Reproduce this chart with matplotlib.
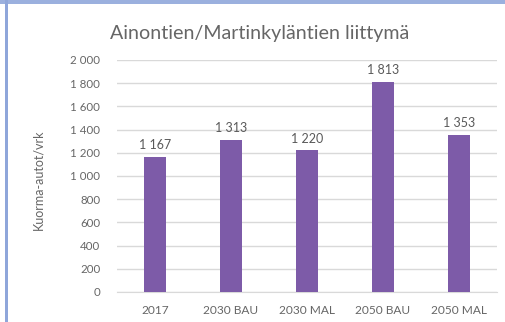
import matplotlib
matplotlib.use("Agg")
import matplotlib.pyplot as plt
from matplotlib.patches import Rectangle

categories = ["2017", "2030 BAU", "2030 MAL", "2050 BAU", "2050 MAL"]
values = [1167, 1313, 1220, 1813, 1353]
yticks = [0, 200, 400, 600, 800, 1000, 1200, 1400, 1600, 1800, 2000]
title = "Ainontien/Martinkyläntien liittymä"
ylabel = "Kuorma-autot/vrk"


def fi(n):
    return f"{n:,}".replace(",", " ")


W, H = 506, 322
fig = plt.figure(figsize=(W / 100, H / 100), dpi=100)
fig.patch.set_facecolor("white")
plt.rcParams["font.family"] = ["Lato", "DejaVu Sans"]

# frame edges (top and left)
fig.add_artist(Rectangle((0, 1 - 4 / H), 1, 4 / H, transform=fig.transFigure,
                         color="#9BB0DE", lw=0))
fig.add_artist(Rectangle((5 / W, 0), 3 / W, 1, transform=fig.transFigure,
                         color="#8FA6DA", lw=0))

ax = fig.add_axes([117 / W, 1 - 292 / H, 380 / W, 232 / H])
x = range(len(categories))
bars = ax.bar(x, values, width=0.3, color="#7D5BA8", zorder=3)
ax.set_xlim(-0.5, len(categories) - 0.5)
ax.set_ylim(0, 2000)
ax.set_yticks(yticks)
ax.set_yticklabels([fi(v) for v in yticks])
ax.set_xticks(list(x))
ax.set_xticklabels(categories)
ax.yaxis.grid(True, color="#D9D9D9", lw=1, zorder=0)
for s in ["top", "right", "left"]:
    ax.spines[s].set_visible(False)
ax.spines["bottom"].set_color("#D9D9D9")
ax.tick_params(axis="both", length=0, colors="#666666")
ax.tick_params(axis="y", pad=12, labelsize=8.3)
ax.tick_params(axis="x", pad=9, labelsize=8.6)

for b, v in zip(bars, values):
    ax.annotate(fi(v), (b.get_x() + b.get_width() / 2, v), xytext=(0, 4),
                textcoords="offset points", ha="center", va="bottom",
                fontsize=9, color="#595959")

fig.text(38 / W, 1 - 180 / H, ylabel, rotation=90, ha="center", va="center",
         fontsize=9, color="#666666")
fig.text(260 / W, 1 - 33 / H, title, ha="center", va="center",
         fontsize=14.1, color="#666666")

fig.savefig("out.png", dpi=100)
